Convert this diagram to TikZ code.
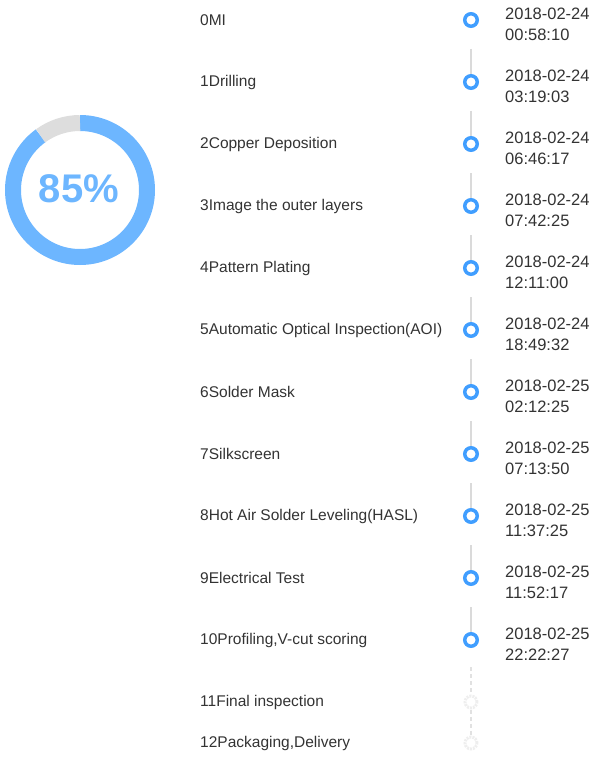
\documentclass[tikz,border=0pt]{standalone}
\usepackage{fontspec}
\setmainfont{Liberation Sans}
\usepackage{xcolor}
\usetikzlibrary{calc}
\definecolor{ringblue}{HTML}{6DB6FF}
\definecolor{ringgray}{HTML}{DDDDDD}
\definecolor{dotblue}{HTML}{409EFF}
\definecolor{linegray}{HTML}{DADADA}
\definecolor{dotgray}{HTML}{EEEEEE}
\definecolor{txt}{HTML}{333333}

\tikzset{
  stepname/.style={anchor=west,inner sep=0pt,text=txt,font=\fontsize{15.5}{18}\selectfont},
  stepdate/.style={anchor=north west,inner sep=0pt,text=txt,align=left,font=\fontsize{16.5}{21}\selectfont},
  donedot/.style={circle,draw=dotblue,line width=3.5pt,minimum size=12.5pt,inner sep=0pt,fill=white},
  tododot/.style={circle,draw=dotgray,line width=3pt,dash pattern=on 2pt off 1pt,minimum size=12pt,inner sep=0pt},
  doneline/.style={draw=linegray,line width=1.2pt,shorten <=21pt},
  todoline/.style={draw=linegray!80,line width=1.2pt,dash pattern=on 4pt off 3pt}
}

\begin{document}
\begin{tikzpicture}[x=1pt,y=-1pt]
\useasboundingbox (0,0) rectangle (597,757);

% progress ring
\draw[line width=16pt,color=ringblue] (80,190) ++(-90:67) arc (-90:234:67);
\draw[line width=16pt,color=ringgray] (80,190) ++(-90:67) arc (-90:-126:67);
\node[text=ringblue,font=\fontsize{40}{42}\selectfont\bfseries] (pct) at (79,189) {85\%};

% finished steps
\foreach \i/\name/\day/\time in {0/0MI/2018-02-24/00:58:10,
  1/1Drilling/2018-02-24/03:19:03,
  2/2Copper Deposition/2018-02-24/06:46:17,
  3/3Image the outer layers/2018-02-24/07:42:25,
  4/4Pattern Plating/2018-02-24/12:11:00,
  5/5Automatic Optical Inspection(AOI)/2018-02-24/18:49:32,
  6/6Solder Mask/2018-02-25/02:12:25,
  7/7Silkscreen/2018-02-25/07:13:50,
  8/8Hot Air Solder Leveling(HASL)/2018-02-25/11:37:25,
  9/9Electrical Test/2018-02-25/11:52:17,
  10/10Profiling{,}V-cut scoring/2018-02-25/22:22:27}{
  \node[donedot] (c\i) at (471,20+62*\i) {};
  \node[stepname] (l\i) at (200,20+62*\i) {\name};
  \node[stepdate] (d\i) at (505,8+62*\i) {\day\\\time};
}
\foreach \i [evaluate=\i as \j using int(\i+1)] in {0,...,9}
  \draw[doneline] (c\i) -- (c\j);

% remaining steps
\node[tododot] (c11) at (471,702) {};
\node[tododot] (c12) at (471,743) {};
\node[stepname] (l11) at (200,702) {11Final inspection};
\node[stepname] (l12) at (200,743) {12Packaging,Delivery};
\coordinate (t10) at ($(c10)+(0,27)$);
\draw[todoline] (t10) -- (c11);
\draw[todoline] (c11) -- (c12);

\end{tikzpicture}
\end{document}
